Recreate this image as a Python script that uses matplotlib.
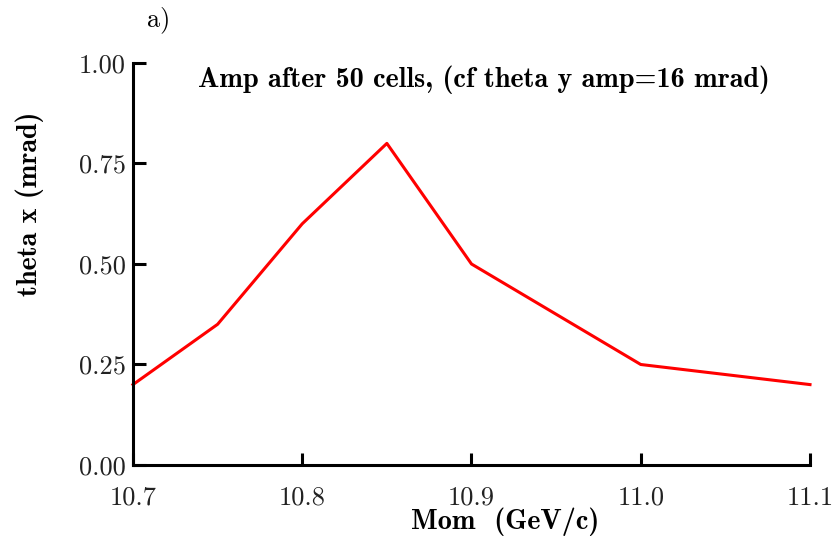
import matplotlib
matplotlib.use("Agg")
import matplotlib.pyplot as plt

mom = [10.7, 10.75, 10.8, 10.85, 10.9, 11.0, 11.1]
theta_x = [0.2, 0.35, 0.6, 0.8, 0.5, 0.25, 0.2]
xticks = [10.7, 10.8, 10.9, 11.0, 11.1]
yticks = [0.0, 0.25, 0.5, 0.75, 1.0]

plt.rcParams['axes.formatter.use_mathtext'] = True

fig = plt.figure(figsize=(8.4, 5.37), dpi=100)
ax = fig.add_axes([0.1583, 0.1341, 0.806, 0.7486])

ax.plot(mom, theta_x, color='#ff0000', linewidth=2.2, clip_on=False)

ax.set_xlim(10.7, 11.1)
ax.set_ylim(0, 1.0)
ax.set_xticks(xticks)
ax.set_xticklabels(['%.1f' % v for v in xticks], fontfamily='cmr10', fontsize=19)
ax.set_yticks(yticks)
ax.set_yticklabels(['%.2f' % v for v in yticks], fontfamily='cmr10', fontsize=19)
ax.tick_params(direction='in', length=9, width=2.2, color='black', labelcolor='#222222')
ax.tick_params(axis='x', pad=15)
ax.tick_params(axis='y', pad=5)

for s in ['top', 'right']:
    ax.spines[s].set_visible(False)
for s in ['left', 'bottom']:
    ax.spines[s].set_linewidth(2.2)

ax.set_xlabel('Mom  (GeV/c)', fontfamily='cmb10', fontsize=20.3,
              ha='center', va='center')
ax.xaxis.set_label_coords((505 - 133) / 677, (465 - 522) / 402)
ax.set_ylabel('theta x (mrad)', fontfamily='cmb10', fontsize=20.3,
              ha='center', va='center')
ax.yaxis.set_label_coords((30 - 133) / 677, (465 - 204) / 402)
ax.text(0.518, 0.958, 'Amp after 50 cells, (cf theta y amp=16 mrad)',
        transform=ax.transAxes, ha='center', va='center',
        fontfamily='cmb10', fontsize=20.3)
fig.text(147 / 840, 1 - 20 / 537, 'a)', ha='left', va='center',
         fontfamily='cmr10', fontsize=19)

fig.savefig('out.png', dpi=100)
